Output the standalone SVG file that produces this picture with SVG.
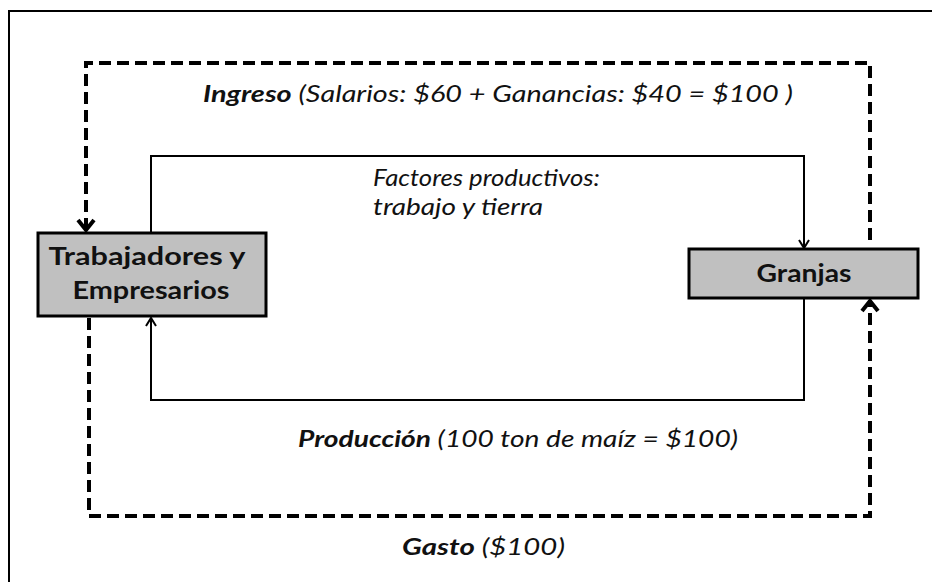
<svg xmlns="http://www.w3.org/2000/svg" width="932" height="582" viewBox="0 0 932 582">
<defs>
<style>
.frame{fill:none;stroke:#000;stroke-width:2}
.node{fill:#c0c0c0;stroke:#000;stroke-width:3}
.solid{fill:none;stroke:#000;stroke-width:2}
.dash{fill:none;stroke:#000;stroke-width:4;stroke-dasharray:12 6}
.nt{font-family:Lato,"Open Sans","Liberation Sans",sans-serif;font-weight:bold;font-size:24px;fill:#111}
.lbl{font-family:Lato,"Open Sans","Liberation Sans",sans-serif;font-style:italic;font-size:23px;fill:#111}
.b{font-weight:bold}
</style>
<marker id="ah" markerUnits="userSpaceOnUse" viewBox="0 0 14 14" refX="12" refY="7" markerWidth="14" markerHeight="14" orient="auto">
<path d="M4,2 L12,7 L4,12" fill="none" stroke="#000" stroke-width="2" stroke-dasharray="none"/>
</marker>
<marker id="ahd" markerUnits="userSpaceOnUse" viewBox="0 0 22 22" refX="19" refY="11" markerWidth="22" markerHeight="22" orient="auto">
<path d="M8,3 L18,11 L8,19" fill="none" stroke="#000" stroke-width="4" stroke-dasharray="none"/>
</marker>
</defs>
<path class="frame" d="M9,582 L9,11 L932,11"/>
<g id="connectors">
<path class="solid" d="M151,232 L151,156 L804,156 L804,248" marker-end="url(#ah)"/>
<path class="solid" d="M804,298 L804,400 L151,400 L151,318" marker-end="url(#ah)"/>
<path class="dash" d="M870,240 L870,63 L86,63 L86,231" marker-end="url(#ahd)"/>
<path class="dash" d="M89,318 L89,516 L870,516 L870,300" marker-end="url(#ahd)"/>
</g>
<g id="node-trabajadores">
<rect class="node" x="38" y="233" width="228" height="83"/>
<text class="nt" x="147" y="265" text-anchor="middle" textLength="197" lengthAdjust="spacingAndGlyphs">Trabajadores y</text>
<text class="nt" x="151" y="299" text-anchor="middle" textLength="157" lengthAdjust="spacingAndGlyphs">Empresarios</text>
</g>
<g id="node-granjas">
<rect class="node" x="689" y="249" width="229" height="49"/>
<text class="nt" x="804" y="282" text-anchor="middle" textLength="95" lengthAdjust="spacingAndGlyphs">Granjas</text>
</g>
<g id="labels">
<text class="lbl" x="203" y="102" textLength="590" lengthAdjust="spacingAndGlyphs"><tspan class="b">Ingreso</tspan>  (Salarios: $60 + Ganancias: $40 = $100 )</text>
<text class="lbl" x="373" y="186" font-size="21" textLength="227" lengthAdjust="spacingAndGlyphs">Factores productivos:</text>
<text class="lbl" x="373" y="215" font-size="21" textLength="170" lengthAdjust="spacingAndGlyphs">trabajo y tierra</text>
<text class="lbl" x="298" y="447" font-size="24" textLength="440" lengthAdjust="spacingAndGlyphs"><tspan class="b">Producción</tspan>  (100 ton de maíz = $100)</text>
<text class="lbl" x="402" y="555" font-size="24" textLength="163" lengthAdjust="spacingAndGlyphs"><tspan class="b">Gasto</tspan>  ($100)</text>
</g>
</svg>
